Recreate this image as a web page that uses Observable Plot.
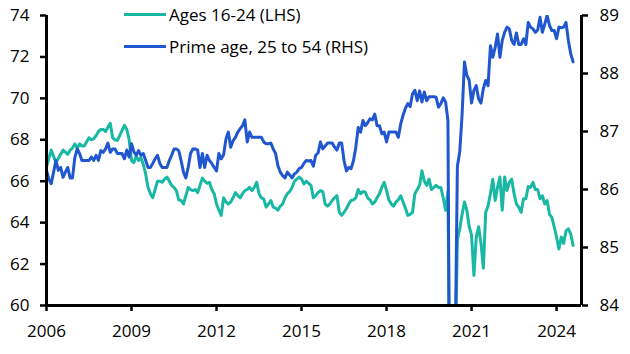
<!DOCTYPE html>
<html>
<head>
<meta charset="utf-8">
<script src="https://cdn.jsdelivr.net/npm/d3@7"></script>
<script src="https://cdn.jsdelivr.net/npm/@observablehq/plot@0.6"></script>
<style>
  html, body { margin: 0; padding: 0; background: #fff; }
  #wrap { position: relative; width: 630px; height: 354px; font-family: "Open Sans", sans-serif; }
  .leg { position: absolute; left: 124px; display: flex; align-items: center; font-size: 17px; color: #000; white-space: nowrap; }
  .leg span.sw { display: inline-block; width: 42px; height: 3px; margin-right: 3px; }
</style>
</head>
<body>
<div id="wrap">
  <div id="chart"></div>
  <div class="leg" style="top:3px"><span class="sw" style="background:#19b8a5"></span><span>Ages 16-24 (LHS)</span></div>
  <div class="leg" style="top:35px"><span class="sw" style="background:#2057d0"></span><span>Prime age, 25 to 54 (RHS)</span></div>
</div>
<script>
// Monthly data, Jan 2006 onwards
const startYear = 2006;
const youth = [
66.7,67.1,67.5,67.2,66.9,67.1,67.3,67.5,67.4,67.3,67.5,67.6,
67.8,67.6,67.8,67.7,67.7,67.9,68.1,68.0,68.05,68.2,68.4,68.5,
68.5,68.4,68.6,68.8,68.1,68.0,67.97,68.2,68.45,68.7,68.5,68.0,
67.0,66.9,67.2,67.0,67.15,66.8,66.35,65.7,65.4,65.2,65.6,66.0,
66.0,65.95,66.1,66.2,66.0,65.8,65.7,65.55,65.1,65.07,64.9,65.3,
65.7,65.6,65.55,65.6,65.45,65.8,66.15,66.0,65.9,65.95,65.6,65.4,
64.9,64.6,64.35,65.2,65.0,64.9,65.0,65.2,65.45,65.3,65.2,65.4,
65.55,65.6,65.7,65.55,65.7,65.95,65.4,65.2,65.15,64.75,64.9,65.07,
64.75,64.7,64.6,64.8,64.9,65.2,65.4,65.5,65.7,66.0,66.1,66.2,
66.1,65.87,66.0,65.9,65.8,65.2,65.3,65.45,65.55,65.5,64.9,64.8,
64.9,65.07,65.2,65.3,64.5,64.35,64.5,64.67,64.9,65.07,65.1,65.2,
65.6,65.4,65.5,65.47,65.2,65.1,64.9,65.0,65.2,65.4,65.7,65.95,
65.55,65.1,64.9,64.8,65.0,65.1,65.3,65.0,64.7,64.35,64.4,64.5,
65.4,65.6,65.8,66.5,66.0,65.8,66.1,65.6,65.7,65.8,65.7,65.7,
65.2,64.6,65.5,52.5,53.5,57.0,63.2,63.7,64.4,65.0,64.6,63.8,
63.4,61.45,63.3,63.8,63.0,61.8,64.5,64.8,65.4,66.1,65.07,65.7,
66.2,64.6,66.2,65.55,65.95,66.1,65.4,64.9,64.75,64.5,65.15,65.15,
65.74,65.7,65.95,65.6,65.6,65.15,65.3,64.9,65.07,64.4,64.25,63.8,
63.3,62.73,63.3,63.0,63.6,63.7,63.45,62.9
];
const prime = [
86.33,86.18,86.1,86.3,86.5,86.33,86.38,86.21,86.3,86.38,86.2,86.2,
86.55,86.7,86.62,86.5,86.5,86.5,86.5,86.56,86.5,86.59,86.5,86.67,
86.64,86.7,86.8,86.64,86.7,86.7,86.62,86.62,86.62,86.53,86.68,86.56,
86.79,86.65,86.59,86.67,86.59,86.62,86.5,86.38,86.38,86.45,86.53,86.59,
86.45,86.38,86.38,86.38,86.5,86.59,86.7,86.7,86.67,86.5,86.3,86.2,
86.38,86.62,86.7,86.7,86.68,86.38,86.62,86.38,86.59,86.5,86.45,86.38,
86.32,86.62,86.53,86.6,86.87,86.99,86.73,86.84,86.9,86.99,87.05,87.1,
87.2,86.82,86.99,86.9,86.9,86.9,86.9,86.9,86.82,86.79,86.79,86.8,
86.7,86.62,86.41,86.3,86.24,86.2,86.3,86.25,86.2,86.27,86.3,86.36,
86.38,86.45,86.5,86.49,86.5,86.4,86.59,86.63,86.82,86.7,86.75,86.8,
86.8,86.8,86.73,86.68,86.8,86.8,86.5,86.32,86.38,86.36,86.5,86.73,
87.07,86.99,87.19,87.1,87.15,87.22,87.2,87.3,87.1,87.1,86.96,86.99,
86.82,86.99,86.99,86.99,86.99,86.9,87.13,87.28,87.4,87.48,87.43,87.65,
87.71,87.53,87.7,87.51,87.68,87.53,87.6,87.6,87.6,87.59,87.42,87.48,
87.58,87.51,87.19,80.0,80.5,83.0,86.4,86.65,87.3,88.2,87.97,87.88,
87.49,87.71,87.79,87.56,87.49,87.74,87.88,87.79,88.48,88.28,88.45,88.68,
88.28,88.57,88.71,88.8,88.77,88.57,88.5,88.7,88.5,88.5,88.6,88.5,
88.88,88.8,88.77,88.71,88.75,88.97,88.71,88.85,89.0,88.83,88.74,88.74,
88.6,88.8,88.79,88.8,88.88,88.57,88.34,88.2
];
const xTicks = [2006, 2009, 2012, 2015, 2018, 2021, 2024];
const lhsTicks = [60, 62, 64, 66, 68, 70, 72, 74];
const rhsTicks = [84, 85, 86, 87, 88, 89];

const lhsDomain = [60, 74];
const rhsDomain = [84, 89];
const toL = v => lhsDomain[0] + (v - rhsDomain[0]) * (lhsDomain[1] - lhsDomain[0]) / (rhsDomain[1] - rhsDomain[0]);
const fromL = v => rhsDomain[0] + (v - lhsDomain[0]) * (rhsDomain[1] - rhsDomain[0]) / (lhsDomain[1] - lhsDomain[0]);

const youthData = youth.map((v, i) => ({t: startYear + i / 12, v}));
const primeData = prime.map((v, i) => ({t: startYear + i / 12, v: toL(v)}));
const xEnd = 2024.88;

const chart = Plot.plot({
  width: 630,
  height: 354,
  marginLeft: 46,
  marginRight: 49,
  marginTop: 15,
  marginBottom: 49,
  style: {fontFamily: "Open Sans, sans-serif", fontSize: "17px", color: "#000", background: "#fff"},
  x: {domain: [startYear, xEnd]},
  y: {domain: lhsDomain},
  marks: [
    Plot.lineY(youthData, {x: "t", y: "v", stroke: "#19b8a5", strokeWidth: 3, clip: true}),
    Plot.lineY(primeData, {x: "t", y: "v", stroke: "#2057d0", strokeWidth: 3, clip: true}),
    Plot.axisX(xTicks, {tickFormat: d => String(d), tickSize: 6, tickPadding: 13, strokeWidth: 2.5, fontSize: 17, label: null}),
    Plot.axisY(lhsTicks, {anchor: "left", tickSize: 6, tickPadding: 11, strokeWidth: 2.5, fontSize: 17, label: null}),
    Plot.axisY(rhsTicks.map(toL), {anchor: "right", tickFormat: d => String(Math.round(fromL(d))), tickSize: 6, tickPadding: 12, strokeWidth: 2.5, fontSize: 17, label: null}),
    Plot.ruleX([startYear], {stroke: "#000", strokeWidth: 3}),
    Plot.ruleX([xEnd], {stroke: "#000", strokeWidth: 3}),
    Plot.ruleY([lhsDomain[0]], {stroke: "#000", strokeWidth: 3})
  ]
});
document.getElementById("chart").appendChild(chart);
</script>
</body>
</html>
